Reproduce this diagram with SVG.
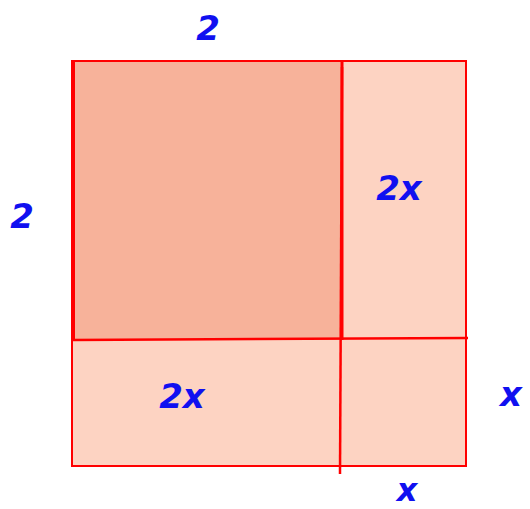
<svg xmlns="http://www.w3.org/2000/svg" width="530" height="509" viewBox="0 0 530 509">
<style>
.lbl{font-family:"DejaVu Sans","Liberation Sans",sans-serif;font-weight:bold;font-style:italic;fill:#1010f0;text-anchor:middle}
.big{font-size:34px}
.edge{stroke:#ff0000;fill:none}
</style>
<rect width="530" height="509" fill="#ffffff"/>
<g id="region-x2">
<rect x="72" y="61" width="394" height="405" fill="#fdd3c2"/>
</g>
<g id="region-xsq">
<rect x="341" y="340" width="125" height="126" fill="#fdd3c2"/>
</g>
<g id="region-4">
<rect x="73" y="62" width="269" height="278" fill="#f7b29a"/>
</g>
<g id="connectors">
<rect class="edge" x="72" y="61" width="394" height="405" stroke-width="2"/>
<line class="edge" x1="73" y1="61" x2="73" y2="341" stroke-width="4"/>
<line class="edge" x1="342" y1="67" x2="340" y2="474" stroke-width="2.5"/>
<line class="edge" x1="342" y1="62" x2="342" y2="340" stroke-width="3"/>
<line class="edge" x1="72" y1="340" x2="468" y2="338" stroke-width="2.5"/>
</g>
<g id="labels">
<text class="lbl big" x="208" y="40">2</text>
<text class="lbl big" x="22" y="228">2</text>
<text class="lbl big" x="399" y="200">2x</text>
<text class="lbl big" x="182" y="408">2x</text>
<text class="lbl big" x="511" y="406">x</text>
<text class="lbl" x="407" y="501" font-size="32">x</text>
</g>
</svg>
